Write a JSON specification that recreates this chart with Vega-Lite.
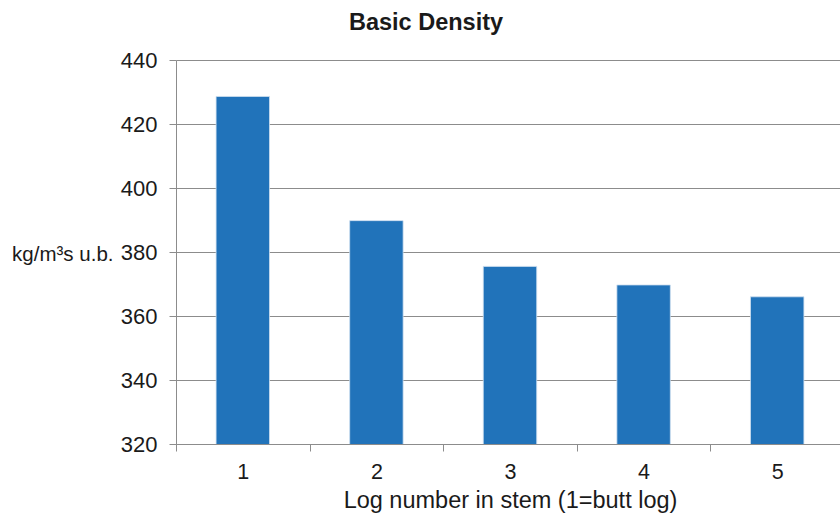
{
  "$schema": "https://vega.github.io/schema/vega-lite/v6.json",
  "autosize": {"type": "none"},
  "padding": {"left": 176, "top": 60, "right": 0, "bottom": 74},
  "width": 668,
  "height": 384,
  "background": "white",
  "config": {
    "font": "Liberation Sans",
    "view": {"stroke": null}
  },
  "title": {
    "text": "Basic Density",
    "fontSize": 23.5,
    "fontWeight": "bold",
    "color": "#1a1a1a",
    "anchor": "middle",
    "frame": "group",
    "dx": -84,
    "offset": 15
  },
  "data": {
    "values": [
      {"log": "1", "density": 428.6},
      {"log": "2", "density": 389.8},
      {"log": "3", "density": 375.5},
      {"log": "4", "density": 369.7},
      {"log": "5", "density": 366.0}
    ]
  },
  "mark": {
    "type": "bar",
    "color": "#2173ba",
    "stroke": "#cfe0f0",
    "strokeWidth": 0.8,
    "clip": true,
    "width": {"band": 0.4}
  },
  "encoding": {
    "x": {
      "field": "log",
      "type": "ordinal",
      "scale": {"paddingInner": 0, "paddingOuter": 0},
      "axis": {
        "title": "Log number in stem (1=butt log)",
        "titleFontSize": 23.5,
        "titleFontWeight": "normal",
        "titleColor": "#1a1a1a",
        "titlePadding": 6,
        "labelAngle": 0,
        "labelFontSize": 21.5,
        "labelColor": "#1a1a1a",
        "labelPadding": 10,
        "tickBand": "extent",
        "tickSize": 7,
        "tickColor": "#8c8c8c",
        "domainColor": "#8c8c8c",
        "grid": false,
        "zindex": 1
      }
    },
    "y": {
      "field": "density",
      "type": "quantitative",
      "scale": {"domain": [320, 440], "nice": false, "zero": false},
      "axis": {
        "title": "kg/m³s u.b.",
        "titleAngle": 0,
        "titleAlign": "right",
        "titleBaseline": "middle",
        "titleX": -63,
        "titleY": 194,
        "titleFontSize": 20.5,
        "titleFontWeight": "normal",
        "titleColor": "#1a1a1a",
        "values": [320, 340, 360, 380, 400, 420, 440],
        "labelFontSize": 22,
        "labelColor": "#1a1a1a",
        "labelPadding": 12,
        "tickSize": 7,
        "tickColor": "#8c8c8c",
        "domainColor": "#8c8c8c",
        "gridColor": "#8c8c8c",
        "gridWidth": 1.2
      }
    }
  }
}
